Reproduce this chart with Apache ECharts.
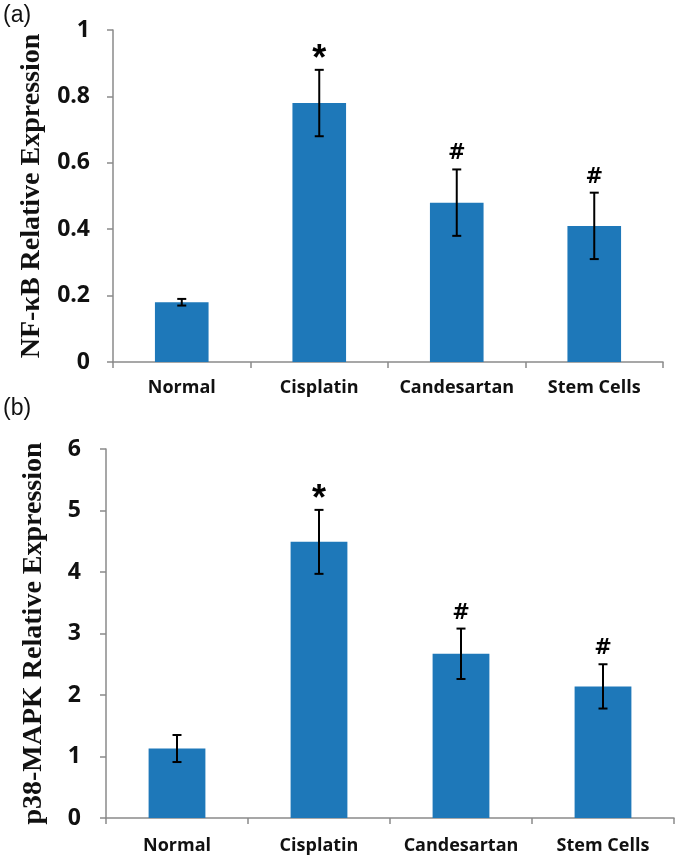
<!DOCTYPE html>
<html>
<head>
<meta charset="utf-8">
<script src="https://cdn.jsdelivr.net/npm/echarts@6/dist/echarts.min.js"></script>
<style>
html,body{margin:0;padding:0;background:#fff;}
#chart{width:680px;height:866px;}
</style>
</head>
<body>
<div id="chart"></div>
<script>
const categories = ['Normal', 'Cisplatin', 'Candesartan', 'Stem Cells'];
const nfkbMean = [0.18, 0.78, 0.48, 0.41];
const nfkbErr = [0.01, 0.10, 0.10, 0.10];
const p38Mean = [1.13, 4.49, 2.67, 2.14];
const p38Err = [0.22, 0.52, 0.41, 0.36];
const sigMarks = ['', '*', '#', '#'];
const yTitleA = 'NF-\u03baB Relative Expression';
const yTitleB = 'p38-MAPK Relative Expression';
const panelLabels = ['(a)', '(b)'];

const barColor = '#1e78b9';
const axisColor = '#8a8a8a';
const sansBold = {fontFamily: '"Open Sans", sans-serif', fontWeight: 'bold', color: '#111'};

function errSeries(xi, yi, means, errs) {
  return {
    type: 'custom',
    xAxisIndex: xi, yAxisIndex: yi,
    data: means.map((m, i) => [i, m, errs[i]]),
    z: 5,
    renderItem: function (params, api) {
      const i = api.value(0), m = api.value(1), e = api.value(2);
      const top = api.coord([i, m + e]);
      const bot = api.coord([i, m - e]);
      const cw = 4.5;
      const st = {stroke: '#000', lineWidth: 2};
      const children = [
        {type: 'line', shape: {x1: top[0], y1: top[1], x2: bot[0], y2: bot[1]}, style: st},
        {type: 'line', shape: {x1: top[0] - cw, y1: top[1], x2: top[0] + cw, y2: top[1]}, style: st},
        {type: 'line', shape: {x1: bot[0] - cw, y1: bot[1], x2: bot[0] + cw, y2: bot[1]}, style: st}
      ];
      const mk = sigMarks[params.dataIndex];
      if (mk) {
        const isStar = mk === '*';
        children.push({
          type: 'text',
          style: {
            x: top[0], y: top[1] + (isStar ? 8 : -5),
            text: mk,
            fontFamily: isStar ? '"Liberation Sans", Arial, sans-serif' : '"DejaVu Sans", sans-serif',
            fontWeight: 'bold',
            fontSize: isStar ? 36 : 21,
            fill: '#000',
            align: 'center',
            verticalAlign: 'bottom'
          }
        });
      }
      return {type: 'group', children: children};
    }
  };
}

function xAxisDef(gi) {
  return {
    type: 'category', gridIndex: gi, data: categories,
    axisLine: {lineStyle: {color: axisColor, width: 1.5}},
    axisTick: {show: true, length: 6, interval: 0, lineStyle: {color: axisColor, width: 1.5}},
    axisLabel: Object.assign({fontSize: 18, interval: 0, margin: gi === 0 ? 17 : 19}, sansBold)
  };
}
function yAxisDef(gi, max, interval, name, gap, labelMargin) {
  return {
    type: 'value', gridIndex: gi, min: 0, max: max, interval: interval,
    name: name, nameLocation: 'middle', nameRotate: 90, nameGap: gap,
    nameTextStyle: {fontFamily: '"Liberation Serif", "Times New Roman", serif', fontWeight: 'bold', fontSize: 28, color: '#111'},
    splitLine: {show: false},
    axisLine: {show: true, lineStyle: {color: axisColor, width: 1.5}},
    axisTick: {show: true, length: 6, lineStyle: {color: axisColor, width: 1.5}},
    axisLabel: Object.assign({fontSize: 23, margin: labelMargin}, sansBold)
  };
}

const chart = echarts.init(document.getElementById('chart'), null, {renderer: 'canvas'});
chart.setOption({
  backgroundColor: '#ffffff',
  animation: false,
  grid: [
    {left: 113, right: 17, top: 30, bottom: 504, outerBoundsMode: 'none'},
    {left: 106, right: 6, top: 449, bottom: 48, outerBoundsMode: 'none'}
  ],
  xAxis: [xAxisDef(0), xAxisDef(1)],
  yAxis: [
    yAxisDef(0, 1, 0.2, yTitleA, 66, 23),
    yAxisDef(1, 6, 1, yTitleB, 58, 25)
  ],
  graphic: [
    {type: 'text', left: 3, top: 4, style: {text: panelLabels[0], fontFamily: '"Liberation Sans", Arial, sans-serif', fontSize: 23, fill: '#111'}},
    {type: 'text', left: 3, top: 397, style: {text: panelLabels[1], fontFamily: '"Liberation Sans", Arial, sans-serif', fontSize: 23, fill: '#111'}}
  ],
  series: [
    {type: 'bar', xAxisIndex: 0, yAxisIndex: 0, data: nfkbMean, barWidth: '39%', itemStyle: {color: barColor}},
    errSeries(0, 0, nfkbMean, nfkbErr),
    {type: 'bar', xAxisIndex: 1, yAxisIndex: 1, data: p38Mean, barWidth: '40%', itemStyle: {color: barColor}},
    errSeries(1, 1, p38Mean, p38Err)
  ]
});
</script>
</body>
</html>
